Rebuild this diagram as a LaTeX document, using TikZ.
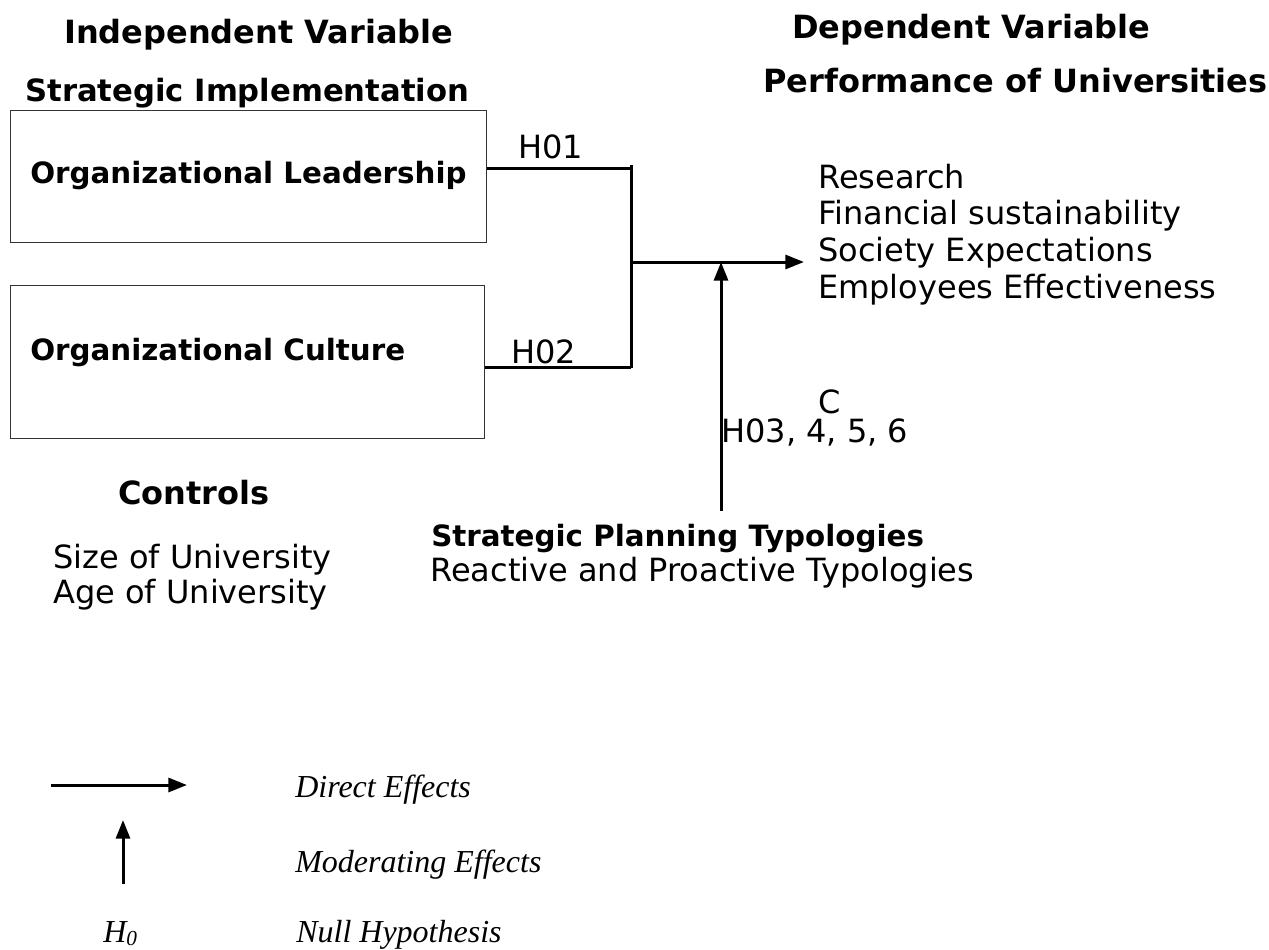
\documentclass[tikz,border=0pt]{standalone}
\usepackage{fontspec}
\setmainfont{DejaVu Sans}
\newfontfamily\legfont{Liberation Serif}
\usetikzlibrary{arrows.meta}
\begin{document}
\begin{tikzpicture}[x=0.75pt,y=-0.75pt,
  txt/.style={inner sep=0pt, anchor=base west, font=\fontsize{24}{28}\selectfont},
  btxt/.style={inner sep=0pt, anchor=base west, font=\fontsize{22}{26}\selectfont\bfseries},
  htxt/.style={inner sep=0pt, anchor=base west, font=\fontsize{24}{28}\selectfont\bfseries},
  leg/.style={inner sep=0pt, anchor=base west, font=\legfont\itshape\fontsize{24}{28}\selectfont},
  boxa/.style={draw=black!80, line width=0.9pt, inner sep=0pt, anchor=north west},
  conn/.style={line width=2.25pt},
  arr/.style={conn, -{Triangle[length=14pt,width=10.5pt]}}]
\useasboundingbox (0,0) rectangle (1269,949);

% headings
\node[htxt] (iv) at (64,44) {Independent Variable};
\node[htxt, font=\fontsize{23}{27}\selectfont\bfseries] (si) at (25,101) {Strategic Implementation};
\node[htxt] (dv) at (792,39) {Dependent Variable};
\node[htxt] (pu) at (763,92) {Performance of Universities};

% boxes
\node[boxa, minimum width=357pt, minimum height=99pt] (b1) at (10,110) {};
\node[boxa, minimum width=355.5pt, minimum height=114.75pt] (b2) at (10,285) {};
\node[btxt] (ol) at (30,183) {Organizational Leadership};
\node[btxt] (oc) at (30,360) {Organizational Culture};

% hypothesis labels
\node[txt] (h1) at (518,158) {H01};
\node[txt] (h2) at (511,363) {H02};

% junction coordinates
\coordinate (j1) at (631,168);
\coordinate (j2) at (631,367);
\coordinate (jm) at (631,262);
\coordinate (tip) at (804,262);
\coordinate (mtip) at (721,262);
\coordinate (mbot) at (721,511);

\draw[conn] (b1.east |- j1) -- (j1);
\draw[conn] (b2.east |- j2) -- (j2);
\draw[conn] ([yshift=2pt]j1) -- ([yshift=-1pt]j2);
\draw[arr] (jm) -- (tip);
\draw[arr] (mbot) -- (mtip);

% dependent variable list
\node[txt] (r1) at (818,188) {Research};
\node[txt] (r2) at (818,224) {Financial sustainability};
\node[txt] (r3) at (818,261) {Society Expectations};
\node[txt] (r4) at (818,298) {Employees Effectiveness};

\node[txt] (c) at (818,413) {C};
\node[txt] (h3) at (721,442) {H03, 4, 5, 6};

% controls
\node[htxt] (ct) at (118,504) {Controls};
\node[txt] (s1) at (53,568) {Size of University};
\node[txt] (s2) at (53,603) {Age of University};

% moderator
\node[btxt] (sp) at (431,546) {Strategic Planning Typologies};
\node[txt] (rp) at (430,581) {Reactive and Proactive Typologies};

% legend
\coordinate (la1) at (51,785);
\coordinate (la2) at (187,785);
\coordinate (lb1) at (123,884);
\coordinate (lb2) at (123,820);
\draw[arr] (la1) -- (la2);
\draw[arr] (lb1) -- (lb2);
\node[leg] (ld) at (295,797) {Direct Effects};
\node[leg] (lm) at (295,872) {Moderating Effects};
\node[leg] (lh) at (296,942) {Null Hypothesis};
\node[leg] (h0) at (103,942) {H\raisebox{-0.12em}{\fontsize{16}{16}\selectfont 0}};
\end{tikzpicture}
\end{document}
